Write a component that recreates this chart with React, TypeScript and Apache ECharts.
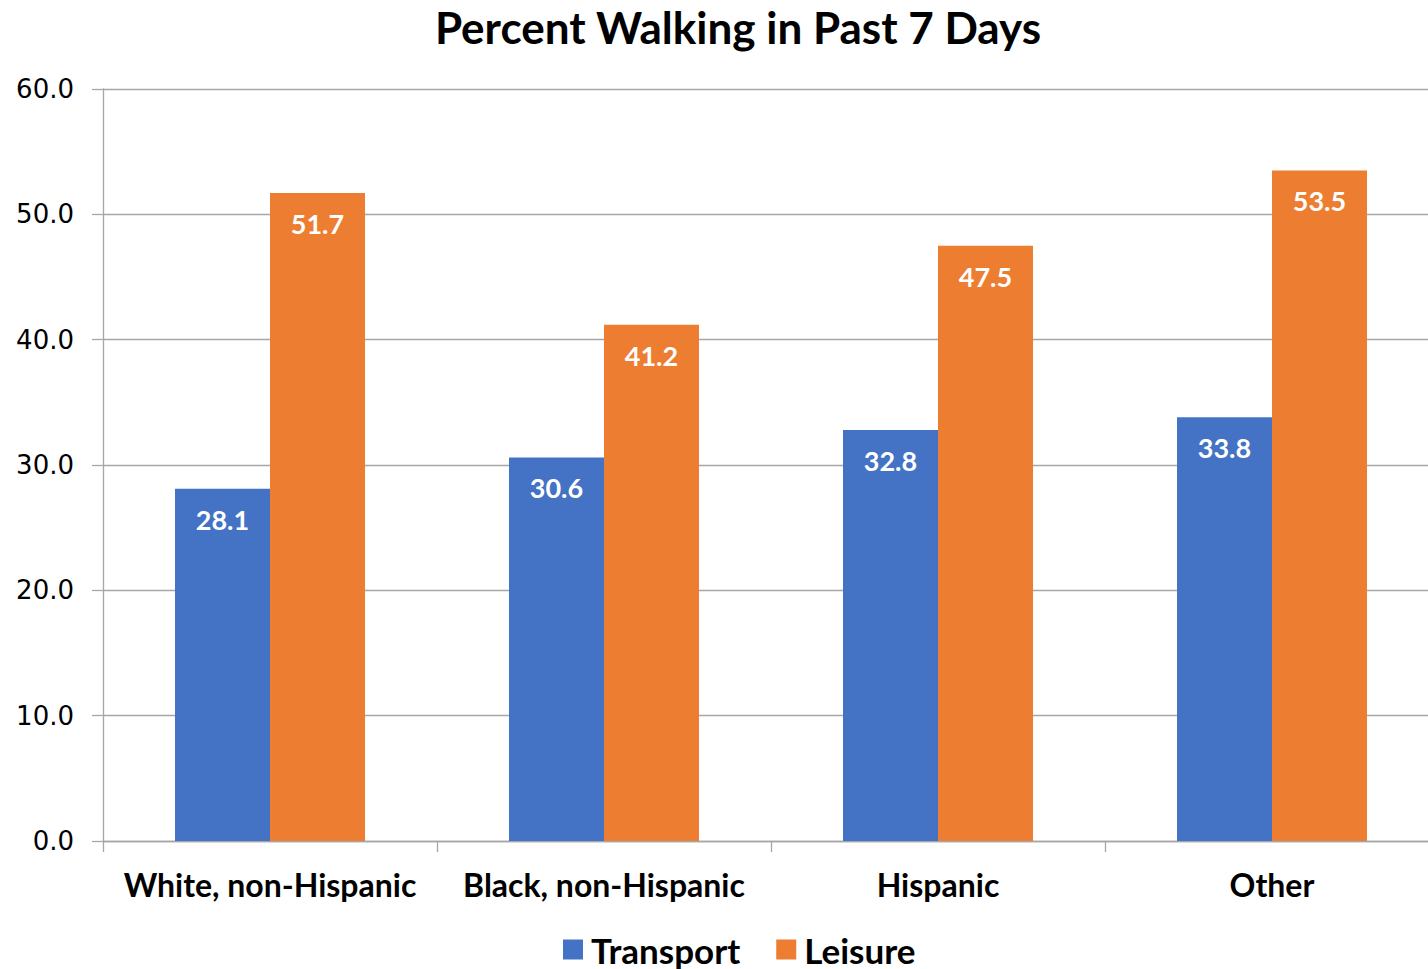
import React, { useEffect, useRef } from "react";
import * as echarts from "echarts";

const categories = ["White, non-Hispanic", "Black, non-Hispanic", "Hispanic", "Other"];
const transport = [28.1, 30.6, 32.8, 33.8];
const leisure = [51.7, 41.2, 47.5, 53.5];
const seriesNames = ["Transport", "Leisure"];
const titleText = "Percent Walking in Past 7 Days";

const BOLD_FONT = "Lato";

export default function App() {
  const ref = useRef<HTMLDivElement>(null);
  useEffect(() => {
    document.body.style.margin = "0";
    const chart = echarts.init(ref.current!, null, { renderer: "svg" });
    const labelStyle = {
      show: true,
      position: "insideTop" as const,
      distance: 17,
      color: "#ffffff",
      fontFamily: BOLD_FONT,
      fontWeight: "bold" as const,
      fontSize: 27,
      formatter: (p: any) => Number(p.value).toFixed(1),
    };
    chart.setOption({
      animation: false,
      backgroundColor: "#ffffff",
      title: {
        text: titleText,
        left: 733,
        textAlign: "center",
        top: 0,
        textStyle: { fontFamily: BOLD_FONT, fontWeight: "bold", fontSize: 44, color: "#000" },
      },
      legend: {
        data: seriesNames,
        left: 563,
        top: 932,
        padding: 0,
        itemWidth: 20,
        itemHeight: 20,
        itemGap: 36,
        icon: "rect",
        textStyle: { fontFamily: BOLD_FONT, fontWeight: "bold", fontSize: 35, color: "#000", padding: [0, 0, 0, 3] },
      },
      grid: { left: 103, top: 89, right: 0, height: 752, containLabel: false },
      xAxis: {
        type: "category",
        data: categories,
        axisLine: { lineStyle: { color: "#a6a6a6", width: 1.3 } },
        axisTick: { show: true, length: 11, lineStyle: { color: "#a6a6a6", width: 1.3 } },
        axisLabel: { fontFamily: BOLD_FONT, fontWeight: "bold", fontSize: 32, color: "#000", margin: 27, interval: 0 },
      },
      yAxis: {
        type: "value",
        min: 0,
        max: 60,
        interval: 10,
        axisLine: { show: true, lineStyle: { color: "#a6a6a6", width: 1.3 } },
        axisTick: { show: true, length: 11, lineStyle: { color: "#a6a6a6", width: 1.3 } },
        splitLine: { lineStyle: { color: "#a6a6a6", width: 1.3 } },
        axisLabel: {
          fontFamily: "DejaVu Sans",
          fontSize: 26,
          color: "#000",
          margin: 29,
          formatter: (v: number) => v.toFixed(1),
        },
      },
      series: [
        {
          name: seriesNames[0],
          type: "bar",
          data: transport,
          barWidth: 95,
          barGap: "0%",
          itemStyle: { color: "#4472C4" },
          label: labelStyle,
        },
        {
          name: seriesNames[1],
          type: "bar",
          data: leisure,
          barWidth: 95,
          barGap: "0%",
          itemStyle: { color: "#ED7D31" },
          label: labelStyle,
        },
      ],
    });
    return () => chart.dispose();
  }, []);
  return (
    <div style={{ width: 1428, height: 969, overflow: "hidden", position: "relative" }}>
      <div ref={ref} style={{ width: 1439, height: 969 }} />
    </div>
  );
}
